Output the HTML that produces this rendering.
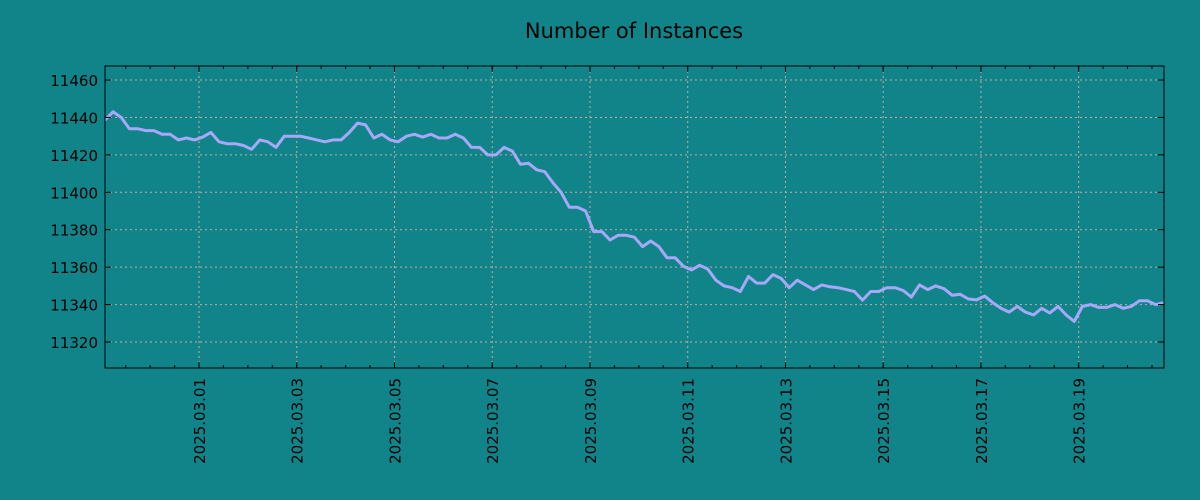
<!DOCTYPE html>
<html><head><meta charset="utf-8"><style>
body{margin:0;background:#108489;}
svg{display:block;font-family:"DejaVu Sans","Liberation Sans",sans-serif;}
</style></head><body>
<svg id="chart" width="1200" height="500" xmlns="http://www.w3.org/2000/svg">
<defs><clipPath id="plotclip"><rect x="105" y="66" width="1059" height="302"/></clipPath></defs>
<rect x="0" y="0" width="1200" height="500" fill="#108489"/>
<text x="634" y="38" text-anchor="middle" font-size="21" fill="#000">Number of Instances</text>
<g id="grid"></g><g id="series" clip-path="url(#plotclip)"></g><g id="axes"></g>
</svg>
<script>
const yTicks=[11320,11340,11360,11380,11400,11420,11440,11460];
const xTickLabels=["2025.03.01","2025.03.03","2025.03.05","2025.03.07","2025.03.09","2025.03.11","2025.03.13","2025.03.15","2025.03.17","2025.03.19"];
const xTickHours=[48,96,144,192,240,288,336,384,432,480];
const startHour=1.84;
const stepHours=4;
const values=[11438.6,11443,11440,11434,11434,11433,11433,11431,11431,11428,11429,11428,11429.5,11432,11427,11426,11426,11425,11423,11428,11427,11424,11430,11430,11430,11429,11428,11427,11428,11428,11432,11437,11436,11429,11431,11428,11427,11430,11431,11429.5,11431,11429,11429,11431,11429,11424,11424,11420,11420,11424,11422,11415,11415.5,11412,11411,11405,11400,11392,11392,11390,11379,11379,11374.5,11377,11377,11376,11371,11374,11371,11365,11365,11360.5,11358.5,11361,11359,11353,11350,11349,11347,11355,11351.5,11351.5,11356,11354,11349,11353,11350.5,11348,11350.5,11349.5,11349,11348,11347,11342.4,11347,11347,11349,11349,11347.5,11344,11350.5,11348,11350,11348.5,11345,11345.5,11343,11342.5,11344.5,11341,11338,11336,11339,11336,11334.5,11338,11335.5,11339,11334.5,11331,11339,11340,11338.5,11338.5,11340,11338,11339,11342,11342,11340,11341];
const L=105,R=1164,T=66,B=368,yMin=11306.1,yMax=11467.5,hMin=1.84,hMax=521.9;
const X=h=>L+(h-hMin)/(hMax-hMin)*(R-L);
const Y=v=>B-(v-yMin)/(yMax-yMin)*(B-T);
const NS="http://www.w3.org/2000/svg";
function mk(tag,parent,attrs){const e=document.createElementNS(NS,tag);for(const k in attrs)e.setAttribute(k,attrs[k]);parent.appendChild(e);return e;}
const grid=document.getElementById('grid'),axes=document.getElementById('axes'),series=document.getElementById('series');
yTicks.forEach(v=>{const y=Y(v);
 const g=mk('line',grid,{x1:L,x2:R,y1:y,y2:y,stroke:'#c8a8a8','stroke-width':1,'stroke-dasharray':'2,3'});
 
 
 mk('line',axes,{x1:L,x2:L+6,y1:y,y2:y,stroke:'#000'});
 mk('line',axes,{x1:R,x2:R-6,y1:y,y2:y,stroke:'#000'});
 const t=mk('text',axes,{x:L-7,y:y+6,'text-anchor':'end','font-size':15,fill:'#000'});t.textContent=v;
 
 
});
for(let h=12;h<hMax;h+=12){const x=X(h);if(x<L)continue;
 mk('line',axes,{x1:x,x2:x,y1:B,y2:B-3,stroke:'#000'});mk('line',axes,{x1:x,x2:x,y1:T,y2:T+3,stroke:'#000'});}
xTickHours.forEach((h,i)=>{const x=X(h);
 const g=mk('line',grid,{x1:x,x2:x,y1:T,y2:B,stroke:'#c8a8a8','stroke-width':1,'stroke-dasharray':'2,3'});
 
 
 mk('line',axes,{x1:x,x2:x,y1:B,y2:B-6,stroke:'#000'});mk('line',axes,{x1:x,x2:x,y1:T,y2:T+6,stroke:'#000'});
 const t=mk('text',axes,{x:0,y:0,'text-anchor':'end','font-size':15,fill:'#000',transform:`translate(${x+6},${B+10}) rotate(-90)`});t.textContent=xTickLabels[i];
 
 
});
const pts=values.map((v,i)=>X(startHour+i*stepHours).toFixed(1)+','+Y(v).toFixed(1)).join(' ');
const pl=mk('polyline',series,{points:pts,fill:'none',stroke:'#a8a8f8','stroke-width':3,'stroke-linejoin':'round'});


const fr=mk('rect',axes,{x:L,y:T,width:R-L,height:B-T,fill:'none',stroke:'#000','stroke-width':1});


</script>
</body></html>
